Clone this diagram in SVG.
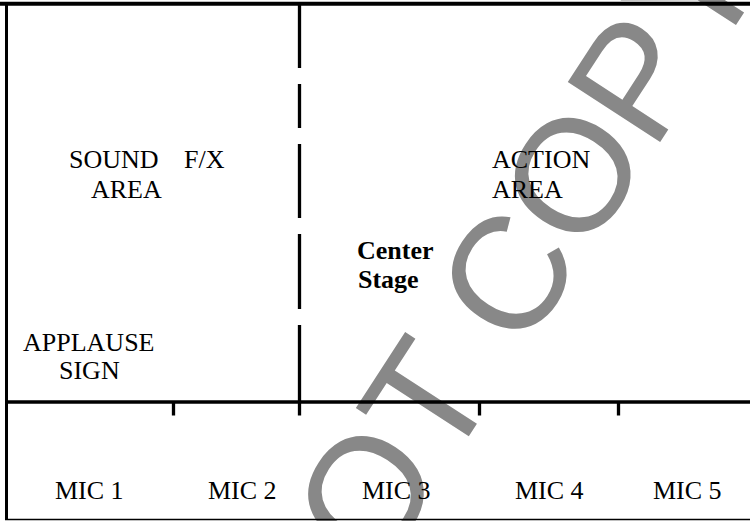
<svg xmlns="http://www.w3.org/2000/svg" width="750" height="521" viewBox="0 0 750 521">
  <style>
    .lbl { font-family: "Liberation Serif", "Times New Roman", serif; font-size: 26px; fill: #000; }
    .bold { font-weight: bold; }
    .line { stroke: #000; fill: none; }
    .wm { font-family: "Liberation Sans", Arial, sans-serif; font-size: 160px; fill: #888; }
  </style>
  <rect width="750" height="521" fill="#fff"/>

  <!-- diagonal watermark behind the plan -->
  <g id="watermark">
    <text class="wm" transform="translate(473,430) rotate(-57)" x="-288.9" y="0">NOT COPY</text>
  </g>

  <!-- stage outline, divider lines and mic ticks -->
  <g id="connectors">
    <line class="line" x1="0" y1="3.8" x2="750" y2="3.8" stroke-width="4"/>
    <line class="line" x1="6.5" y1="2" x2="6.5" y2="520" stroke-width="3"/>
    <line class="line" x1="5" y1="519.5" x2="750" y2="519.5" stroke-width="1.6"/>
    <line class="line" x1="5" y1="402" x2="750" y2="402" stroke-width="3.6"/>
    <!-- dashed divider between sound area and action area -->
    <path class="line" stroke-width="3.3" d="M299.5 4 V68 M299.5 84 V128 M299.5 144 V218 M299.5 234 V309 M299.5 325 V415.5"/>
    <!-- mic position ticks -->
    <path class="line" stroke-width="3.3" d="M173.5 402 V415.5 M479.5 402 V415.5 M618.5 402 V415.5"/>
  </g>

  <g id="sound-area">
    <text class="lbl" x="69" y="168">SOUND</text>
    <text class="lbl" x="91" y="198">AREA</text>
  </g>
  <g id="fx">
    <text class="lbl" x="184" y="168">F/X</text>
  </g>
  <g id="action-area">
    <text class="lbl" x="492" y="168">ACTION</text>
    <text class="lbl" x="492" y="198">AREA</text>
  </g>
  <g id="center-stage">
    <text class="lbl bold" x="357" y="259">Center</text>
    <text class="lbl bold" x="358" y="288">Stage</text>
  </g>
  <g id="applause-sign">
    <text class="lbl" x="23" y="350.5">APPLAUSE</text>
    <text class="lbl" x="59" y="379">SIGN</text>
  </g>
  <g id="mic-1"><text class="lbl" x="55" y="499">MIC 1</text></g>
  <g id="mic-2"><text class="lbl" x="208" y="499">MIC 2</text></g>
  <g id="mic-3"><text class="lbl" x="362" y="499">MIC 3</text></g>
  <g id="mic-4"><text class="lbl" x="515" y="499">MIC 4</text></g>
  <g id="mic-5"><text class="lbl" x="653" y="499">MIC 5</text></g>
</svg>
